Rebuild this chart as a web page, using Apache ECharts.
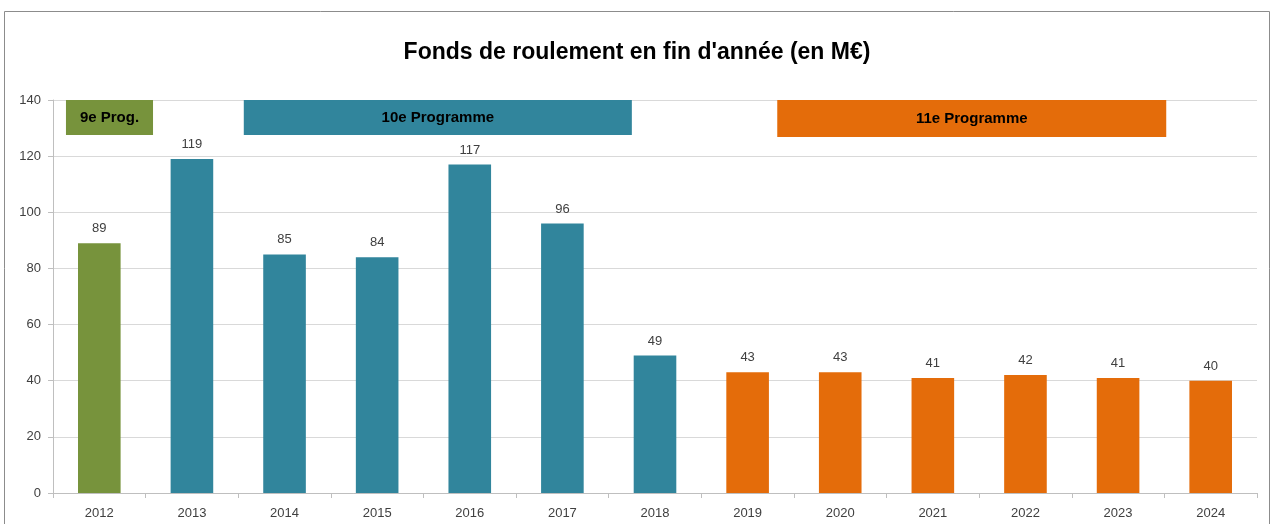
<!DOCTYPE html>
<html>
<head>
<meta charset="utf-8">
<script src="https://cdn.jsdelivr.net/npm/echarts@6/dist/echarts.min.js"></script>
<style>
  html, body { margin: 0; padding: 0; background: #fff; }
  #main { width: 1274px; height: 524px; }
</style>
</head>
<body>
<div id="main"></div>
<script>
// years and values (M€)
var years = ['2012','2013','2014','2015','2016','2017','2018','2019','2020','2021','2022','2023','2024'];
var values = [89, 119, 85, 84, 117, 96, 49, 43, 43, 41, 42, 41, 40];
// which programme each year belongs to
var yearProgram = [0, 1, 1, 1, 1, 1, 1, 2, 2, 2, 2, 2, 2];

// programme banners (positions in category units on a hidden 0..13 axis)
var programNames = ['9e Prog.', '10e Programme', '11e Programme'];
var programStart = [0.14, 2.06, 7.82];
var programEnd = [1.08, 6.25, 12.02];
var programTop = [140, 140, 140];
var programBottom = [127.5, 127.5, 126.8];
var programColors = ['#77933C', '#31859C', '#E46C0A'];

var yTicks = [0, 20, 40, 60, 80, 100, 120, 140];

var font = 'Liberation Sans';

var chartDom = document.getElementById('main');
var myChart = echarts.init(chartDom);

var barData = values.map(function (v, i) {
  return { value: v, itemStyle: { color: programColors[yearProgram[i]] } };
});
var bannerData = programNames.map(function (n, i) {
  return [programStart[i], programEnd[i], programTop[i], programBottom[i], i];
});

var option = {
  animation: false,
  textStyle: { fontFamily: font },
  title: {
    text: "Fonds de roulement en fin d'année (en M€)",
    left: 'center',
    top: 36,
    textStyle: { fontFamily: font, fontSize: 23, fontWeight: 'bold', color: '#000' }
  },
  graphic: [{
    type: 'rect',
    shape: { x: 4.5, y: 11.5, width: 1265, height: 530 },
    style: { fill: 'none', stroke: '#8c8c8c', lineWidth: 1 },
    silent: true
  }],
  grid: { left: 53, right: 17, top: 100, bottom: 31 },
  xAxis: [{
    type: 'category',
    data: years,
    axisLine: { lineStyle: { color: '#bfbfbf' } },
    axisTick: { show: true, length: 5, lineStyle: { color: '#bfbfbf' } },
    axisLabel: { color: '#404040', fontSize: 13, margin: 14, fontFamily: font }
  }, {
    type: 'value',
    min: 0,
    max: 13,
    show: false
  }],
  yAxis: {
    type: 'value',
    min: 0,
    max: 140,
    interval: 20,
    axisLine: { show: true, lineStyle: { color: '#bfbfbf' } },
    axisTick: { show: true, length: 5, lineStyle: { color: '#bfbfbf' } },
    axisLabel: {
      color: '#404040', fontSize: 13, margin: 12, fontFamily: font,
      formatter: function (v) { return yTicks.indexOf(v) >= 0 ? String(v) : ''; }
    },
    splitLine: { lineStyle: { color: '#d9d9d9' } }
  },
  series: [{
    type: 'bar',
    data: barData,
    barWidth: '46%',
    label: {
      show: true,
      position: 'top',
      distance: 8,
      color: '#404040',
      fontSize: 13,
      fontFamily: font
    }
  }, {
    type: 'custom',
    xAxisIndex: 1,
    data: bannerData,
    renderItem: function (params, api) {
      var p0 = api.coord([api.value(0), api.value(2)]);
      var p1 = api.coord([api.value(1), api.value(3)]);
      var idx = api.value(4);
      return {
        type: 'rect',
        shape: { x: p0[0], y: p0[1], width: p1[0] - p0[0], height: p1[1] - p0[1] },
        style: { fill: programColors[idx] },
        textContent: {
          style: {
            text: programNames[idx],
            fill: '#000',
            fontSize: 15,
            fontWeight: 'bold',
            fontFamily: font
          }
        },
        textConfig: { position: 'inside' }
      };
    }
  }]
};

myChart.setOption(option);
window.addEventListener('resize', function () {
  myChart.resize();
});
</script>
</body>
</html>
